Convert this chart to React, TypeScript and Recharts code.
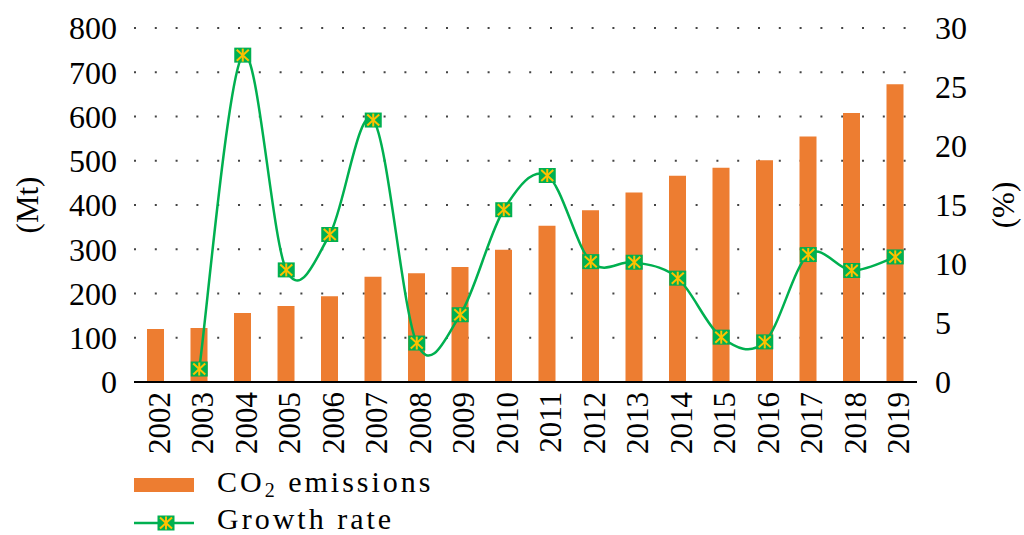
import React from 'react';
import { ComposedChart, Bar, Line, XAxis, YAxis, CartesianGrid } from 'recharts';

const years = ['2002','2003','2004','2005','2006','2007','2008','2009','2010','2011','2012','2013','2014','2015','2016','2017','2018','2019'];
const co2Emissions = [120, 122, 156, 172, 194, 238, 246, 260, 299, 353, 388, 428, 466, 484, 501, 555, 608, 673];
const growthRate: (number | null)[] = [null, 1.1, 27.7, 9.5, 12.5, 22.2, 3.3, 5.7, 14.6, 17.5, 10.2, 10.15, 8.8, 3.8, 3.4, 10.8, 9.45, 10.6];
const leftTicks = [0, 100, 200, 300, 400, 500, 600, 700, 800];
const rightTicks = [0, 5, 10, 15, 20, 25, 30];

const data = years.map((y, i) => ({ year: y, co2: co2Emissions[i], growth: growthRate[i] }));

const FONT = 'Liberation Serif';
const ORANGE = '#ED7D31';
const GREEN = '#00B050';
const YELLOW = '#FFC000';

// Excel-like smoothed line (Catmull-Rom style bezier)
const excelSmooth = (context: any) => {
  let pts: number[][] = [];
  return {
    areaStart() {},
    areaEnd() {},
    lineStart() { pts = []; },
    point(x: number, y: number) { pts.push([+x, +y]); },
    lineEnd() {
      if (!pts.length) return;
      context.moveTo(pts[0][0], pts[0][1]);
      for (let i = 0; i < pts.length - 1; i++) {
        const p0 = pts[i - 1] || pts[i];
        const p1 = pts[i];
        const p2 = pts[i + 1];
        const p3 = pts[i + 2] || p2;
        const c1x = p1[0] + (p2[0] - p0[0]) / 6;
        const c1y = p1[1] + (p2[1] - p0[1]) / 6;
        const c2x = p2[0] - (p3[0] - p1[0]) / 6;
        const c2y = p2[1] - (p3[1] - p1[1]) / 6;
        context.bezierCurveTo(c1x, c1y, c2x, c2y, p2[0], p2[1]);
      }
    },
  };
};

const Marker = ({ cx, cy }: { cx: number; cy: number }) => {
  const w = 17, h = 15;
  return (
    <g>
      <rect x={cx - w / 2} y={cy - h / 2} width={w} height={h} fill={GREEN} />
      <line x1={cx - 6} y1={cy - 5.5} x2={cx + 6} y2={cy + 5.5} stroke={YELLOW} strokeWidth={2} />
      <line x1={cx - 6} y1={cy + 5.5} x2={cx + 6} y2={cy - 5.5} stroke={YELLOW} strokeWidth={2} />
      <line x1={cx} y1={cy - 6.5} x2={cx} y2={cy + 6.5} stroke={YELLOW} strokeWidth={2} />
    </g>
  );
};

const renderDot = (props: any) => {
  const { cx, cy, index, value } = props;
  if (value == null || cy == null || isNaN(cy)) return <g key={`d${index}`} />;
  return <g key={`d${index}`}><Marker cx={cx} cy={cy} /></g>;
};

const XTick = (props: any) => {
  const { x, y, payload } = props;
  return (
    <text
      transform={`translate(${x + 14},${y + 10}) rotate(-90)`}
      textAnchor="end"
      style={{ fontFamily: FONT, fontSize: 31 }}
      fill="#000"
    >
      {payload.value}
    </text>
  );
};

export default function App() {
  return (
    <div style={{ position: 'absolute', left: 0, top: 0, width: 1024, height: 535, background: '#fff' }}>
      <ComposedChart
        width={1024}
        height={535}
        data={data}
        margin={{ top: 28, right: 0, bottom: 0, left: 0 }}
      >
        <CartesianGrid
          yAxisId="left"
          vertical={false}
          stroke="#444"
          strokeWidth={2}
          strokeDasharray="2 18.8"
        />
        <XAxis
          dataKey="year"
          height={153}
          interval={0}
          tickLine={false}
          axisLine={{ stroke: '#000', strokeWidth: 2 }}
          tickSize={0}
          tickMargin={0}
          tick={<XTick />}
        />
        <YAxis
          yAxisId="left"
          width={134}
          domain={[0, 800]}
          ticks={leftTicks}
          axisLine={false}
          tickLine={false}
          tickSize={0}
          tickMargin={17}
          tick={{ style: { fontFamily: FONT, fontSize: 32 }, fill: '#000' }}
        />
        <YAxis
          yAxisId="right"
          orientation="right"
          width={107}
          domain={[0, 30]}
          ticks={rightTicks}
          axisLine={false}
          tickLine={false}
          tickSize={0}
          tickMargin={18}
          tick={{ style: { fontFamily: FONT, fontSize: 32 }, fill: '#000', textAnchor: 'start' }}
        />
        <Bar yAxisId="left" dataKey="co2" fill={ORANGE} barSize={17} isAnimationActive={false} />
        <Line
          yAxisId="right"
          dataKey="growth"
          type={excelSmooth as any}
          stroke={GREEN}
          strokeWidth={2.5}
          dot={renderDot}
          activeDot={false}
          connectNulls={false}
          isAnimationActive={false}
        />
      </ComposedChart>
      <svg width={1024} height={535} style={{ position: 'absolute', left: 0, top: 0, pointerEvents: 'none' }}>
        <text transform="translate(38,205) rotate(-90)" textAnchor="middle" style={{ fontFamily: FONT, fontSize: 31 }} fill="#000">(Mt)</text>
        <text transform="translate(1014,205) rotate(-90)" textAnchor="middle" style={{ fontFamily: FONT, fontSize: 31 }} fill="#000">(%)</text>
        <rect x={134} y={478} width={60} height={14} fill={ORANGE} />
        <text x={217} y={492} style={{ fontFamily: FONT, fontSize: 30, letterSpacing: 3 }} fill="#000">
          CO<tspan style={{ fontSize: 20 }} dy={5}>2</tspan><tspan dy={-5}> emissions</tspan>
        </text>
        <line x1={134} y1={523} x2={194} y2={523} stroke={GREEN} strokeWidth={2.5} />
        <Marker cx={166} cy={523} />
        <text x={217} y={529} style={{ fontFamily: FONT, fontSize: 30, letterSpacing: 3 }} fill="#000">Growth rate</text>
      </svg>
    </div>
  );
}
